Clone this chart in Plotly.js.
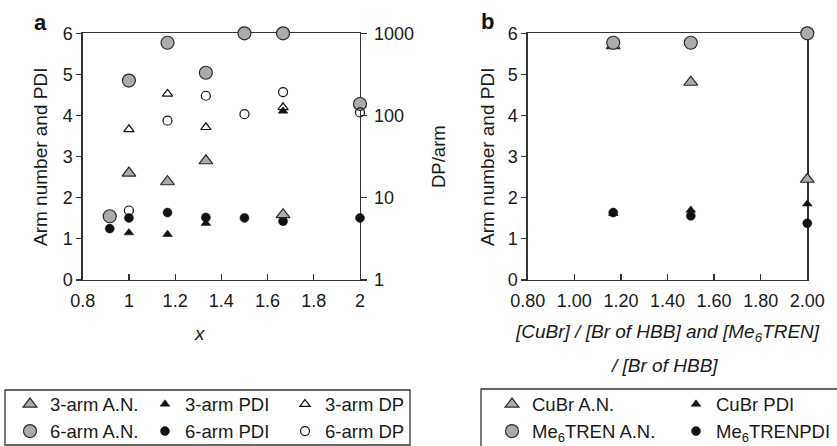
<!DOCTYPE html>
<html><head><meta charset="utf-8">
<script src="https://cdn.plot.ly/plotly-3.0.1.min.js"></script>
<style>html,body{margin:0;padding:0;background:#fff}#chart{width:837px;height:446px}</style>
</head><body><div id="chart"></div>
<script>
// ---- data ----
const xA6 = [0.917, 1.0, 1.167, 1.333, 1.5, 1.667, 2.0];
const arm6AN = [1.55, 4.85, 5.77, 5.04, 6.0, 6.0, 4.28];
const arm6PDI = [1.25, 1.51, 1.64, 1.52, 1.51, 1.43, 1.51];
const arm6DP = [null, 7.0, 86.6, 174, 104, 193, 109];
const xA3 = [1.0, 1.167, 1.333, 1.667];
const arm3AN = [2.6, 2.39, 2.9, 1.59];
const arm3PDI = [1.15, 1.11, 1.38, 4.11];
const arm3DP = [68, 183, 72, 126];
const xB = [1.167, 1.5, 2.0];
const cubrAN = [5.7, 4.81, 2.45];
const cubrPDI = [1.62, 1.70, 1.85];
const me6AN = [5.77, 5.77, 6.0];
const me6PDI = [1.64, 1.56, 1.38];
const xTicks = [0.8, 1.0, 1.2, 1.4, 1.6, 1.8, 2.0];
const yTicks = [0, 1, 2, 3, 4, 5, 6];
const dpTicks = [1, 10, 100, 1000];
const dpTickText = ['1', '10', '100', '1000'];

// ---- styling helpers ----
const W = 837, H = 446;
const px = v => v / W;
const py = v => 1 - v / H;
const FONT = 'Liberation Sans, Arial, Helvetica, sans-serif';
const GRAY = '#ababab', EDGE = '#2a2a2a', BLK = '#111111', AX = '#333333';

function mk(symbol, size, color, lineColor, lineWidth) {
  return {symbol: symbol, size: size, color: color, line: {color: lineColor, width: lineWidth}};
}
function tr(x, y, name, marker, xa, ya, legend, rank) {
  return {type: 'scatter', mode: 'markers', x: x, y: y, name: name, marker: marker,
          xaxis: xa, yaxis: ya, legend: legend, legendrank: rank, cliponaxis: false,
          hoverinfo: 'x+y+name'};
}

const data = [
  // panel a
  tr(xA6, arm6PDI, '6-arm PDI', mk('circle', 9, BLK, BLK, 0.5), 'x', 'y', 'legend2', 2),
  tr(xA3, arm3AN, '3-arm A.N.', mk('triangle-up', 12, GRAY, EDGE, 1.2), 'x', 'y', 'legend', 1),
  tr(xA6, arm6AN, '6-arm A.N.', mk('circle', 13, GRAY, EDGE, 1.2), 'x', 'y', 'legend', 2),
  tr(xA3, arm3PDI, '3-arm PDI', mk('triangle-up', 8.5, BLK, BLK, 0.5), 'x', 'y', 'legend2', 1),
  tr(xA3, arm3DP, '3-arm DP', mk('triangle-up-open', 9, BLK, BLK, 1.2), 'x', 'y2', 'legend3', 1),
  tr(xA6, arm6DP, '6-arm DP', mk('circle-open', 9, BLK, BLK, 1.2), 'x', 'y2', 'legend3', 2),
  // panel b
  tr(xB, cubrAN, 'CuBr A.N.', mk('triangle-up', 12, GRAY, EDGE, 1.2), 'x2', 'y3', 'legend4', 1),
  tr(xB, me6AN, 'Me<sub>6</sub>TREN A.N.', mk('circle', 13, GRAY, EDGE, 1.2), 'x2', 'y3', 'legend4', 2),
  tr(xB, cubrPDI, 'CuBr PDI', mk('triangle-up', 8.5, BLK, BLK, 0.5), 'x2', 'y3', 'legend5', 1),
  tr(xB, me6PDI, 'Me<sub>6</sub>TRENPDI', mk('circle', 9, BLK, BLK, 0.5), 'x2', 'y3', 'legend5', 2)
];

const axBase = {showgrid: false, zeroline: false, showline: true, linecolor: AX, linewidth: 1.3,
  tickcolor: AX, tickwidth: 1.2, layer: 'below traces', tickfont: {size: 18, color: '#1a1a1a'}};

function leg(lx, top) {
  return {xref: 'container', yref: 'container', x: px(lx), y: py(top), xanchor: 'left', yanchor: 'top',
    orientation: 'v', bgcolor: 'rgba(0,0,0,0)', borderwidth: 0, itemwidth: 30, tracegroupgap: 0,
    traceorder: 'normal', font: {size: 18.5, color: '#1a1a1a', family: FONT}};
}

const ydom = [py(280), py(33.3)];
const layout = {
  width: W, height: H,
  margin: {l: 0, r: 0, t: 0, b: 0, autoexpand: false},
  paper_bgcolor: '#ffffff', plot_bgcolor: 'rgba(0,0,0,0)',
  font: {family: FONT, size: 18, color: '#1a1a1a'},
  showlegend: true,
  xaxis: Object.assign({}, axBase, {domain: [px(82.7), px(360)], range: [0.8, 2.0], tickvals: xTicks,
    ticks: 'inside', ticklen: 6, mirror: true, anchor: 'y', ticklabelstandoff: 4}),
  yaxis: Object.assign({}, axBase, {domain: ydom, range: [0, 6], tickvals: yTicks,
    ticks: 'outside', ticklen: 5, mirror: true, anchor: 'x'}),
  yaxis2: Object.assign({}, axBase, {overlaying: 'y', side: 'right', type: 'log', range: [0, 3],
    tickvals: dpTicks, ticktext: dpTickText, ticks: 'outside', ticklen: 6, anchor: 'x', ticklabelstandoff: 3}),
  xaxis2: Object.assign({}, axBase, {domain: [px(527.7), px(807.3)], range: [0.8, 2.0], tickvals: xTicks,
    tickformat: '.2f', ticks: 'inside', ticklen: 6, mirror: true, anchor: 'y3', ticklabelstandoff: 4}),
  yaxis3: Object.assign({}, axBase, {domain: ydom, range: [0, 6], tickvals: yTicks,
    ticks: 'outside', ticklen: 5, mirror: true, anchor: 'x2'}),
  legend: leg(10, 385.5),
  legend2: leg(145, 385.5),
  legend3: leg(285, 385.5),
  legend4: leg(492, 385.5),
  legend5: leg(676, 385.5),
  shapes: [
    {type: 'rect', xref: 'paper', yref: 'paper', x0: px(5), x1: px(410), y0: py(445), y1: py(390),
     line: {color: AX, width: 1.3}, fillcolor: 'rgba(0,0,0,0)'},
    {type: 'rect', xref: 'paper', yref: 'paper', x0: px(481), x1: px(850), y0: py(452), y1: py(389),
     line: {color: AX, width: 1.3}, fillcolor: 'rgba(0,0,0,0)'}
  ],
  annotations: [
    {text: '<b>a</b>', x: px(40), y: py(22), font: {size: 22, color: '#111'}},
    {text: '<b>b</b>', x: px(487), y: py(21), font: {size: 22, color: '#111'}},
    {text: 'Arm number and PDI', x: px(40), y: py(157), textangle: -90, font: {size: 19}},
    {text: 'DP/arm', x: px(438), y: py(157), textangle: -90, font: {size: 18.5}},
    {text: 'Arm number and PDI', x: px(487), y: py(157), textangle: -90, font: {size: 19}},
    {text: '<i>x</i>', x: px(200), y: py(333), font: {size: 19}},
    {text: '<i>[CuBr] / [Br of HBB] and [Me<sub>6</sub>TREN]</i>', x: px(667), y: py(333), font: {size: 19}},
    {text: '<i>/ [Br of HBB]</i>', x: px(664), y: py(365), font: {size: 19}}
  ].map(a => Object.assign({xref: 'paper', yref: 'paper', showarrow: false, xanchor: 'center', yanchor: 'middle'}, a))
};

Plotly.newPlot('chart', data, layout, {displayModeBar: false, staticPlot: true});
</script>
</body></html>
